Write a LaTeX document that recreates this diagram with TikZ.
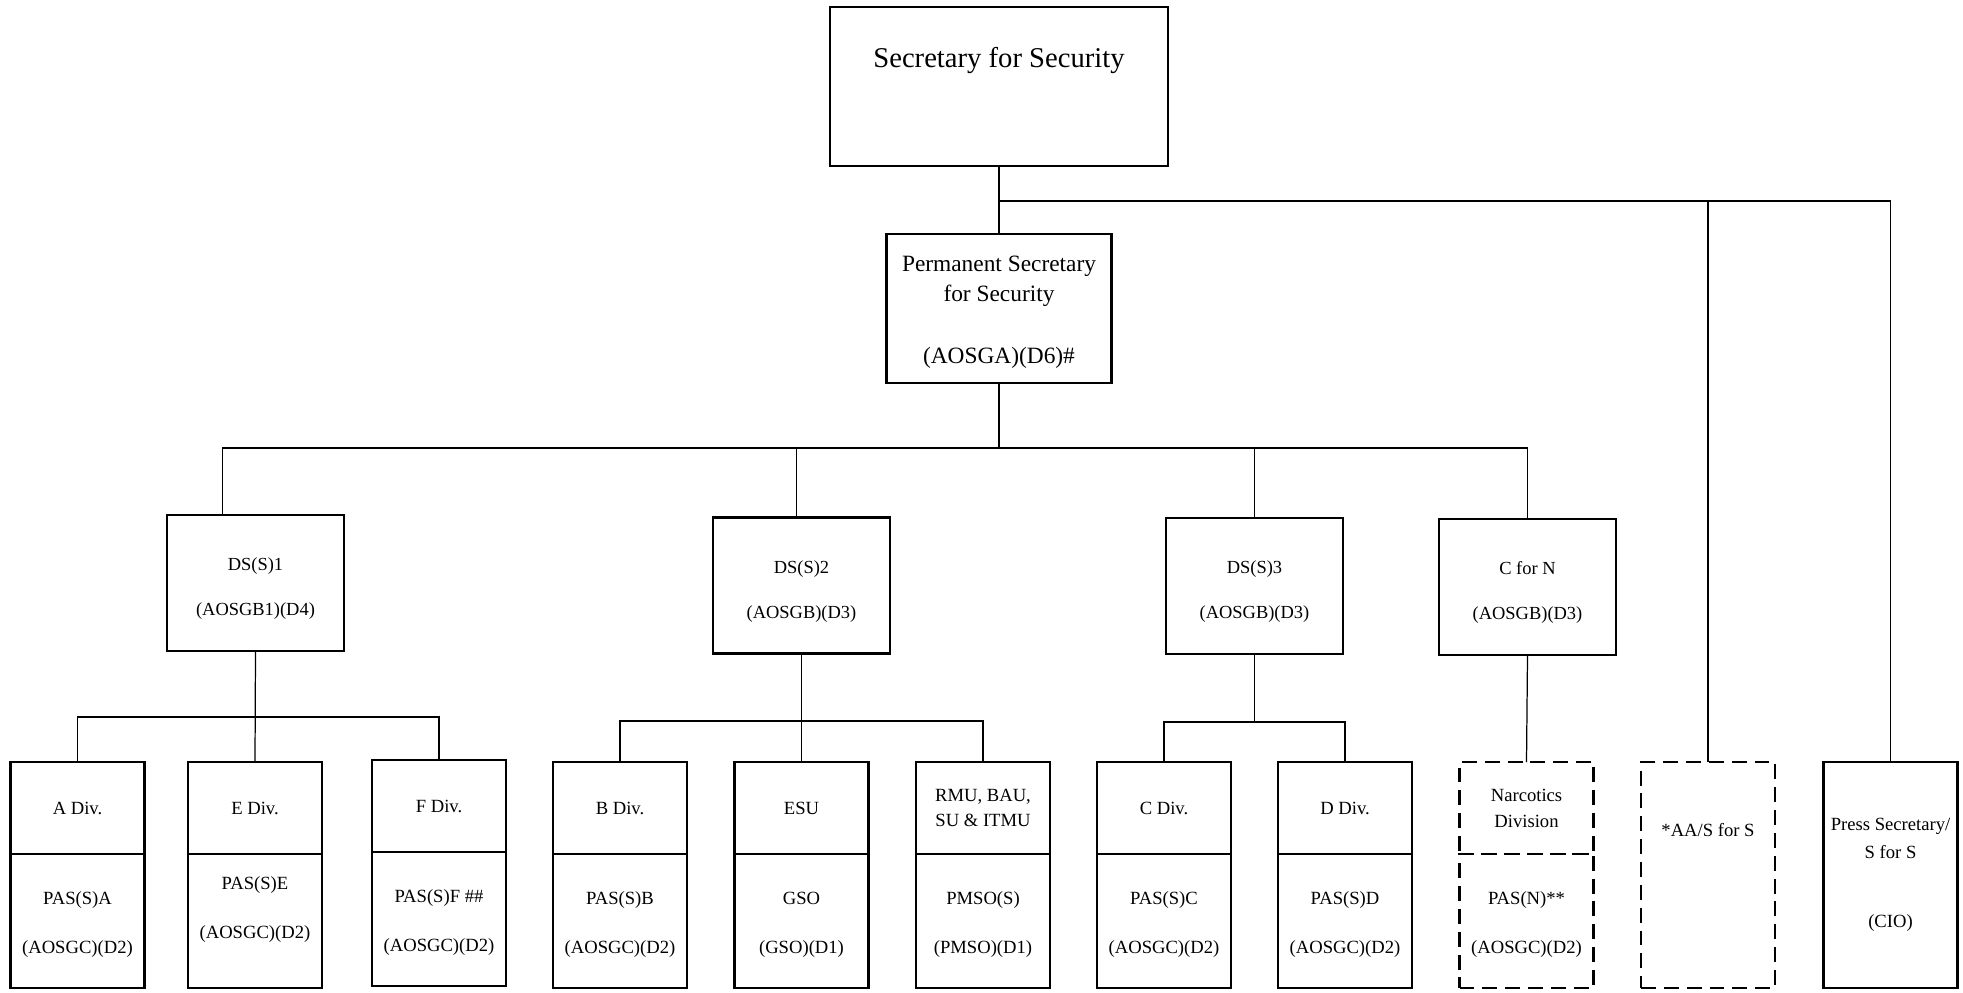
\documentclass[tikz,border=0pt]{standalone}
\usepackage{fontspec}
\setmainfont{Liberation Serif}
\usetikzlibrary{positioning}
\tikzset{
  box/.style = {draw, line width=1.5pt, rectangle, outer sep=0pt, align=center, inner sep=2pt},
  head/.style = {box, minimum width=6.76cm, minimum height=3.18cm},
  chief/.style = {box, font=\fontsize{13.3}{16}\selectfont, minimum width=4.5cm, minimum height=2.98cm},
  deputy/.style = {box, font=\fontsize{10.5}{12.6}\selectfont, minimum width=3.54cm, minimum height=2.72cm},
  unit/.style = {box, font=\fontsize{10.6}{12.7}\selectfont, minimum width=2.68cm, minimum height=1.84cm},
  post/.style = {box, font=\fontsize{10.6}{12.7}\selectfont, minimum width=2.68cm, minimum height=2.68cm},
  tallpost/.style = {box, font=\fontsize{10.6}{12.7}\selectfont, minimum width=2.68cm, minimum height=4.52cm},
  pending/.style = {dash pattern=on 8.5pt off 4.5pt},
  link/.style = {line width=0.7pt}
}

\begin{document}
\begin{tikzpicture}[x=0.02cm, y=-0.02cm]
    \useasboundingbox (0,0) rectangle (1963,992);

    % Top of the chart
    \node [head, label={[font=\fontsize{16.3}{19.5}\selectfont, anchor=center, yshift=-1.06cm]north:Secretary for Security}] (sec) at (999,86.5) {};
    \node [chief] (perm) at (999,308.5) {\rule{0pt}{13pt}Permanent Secretary\\[1pt]for Security\\[19pt](AOSGA)(D6)\#};

    % Deputies
    \node [deputy] (ds1) at (255.5,583) {\rule{0pt}{14pt}DS(S)1\\[13pt](AOSGB1)(D4)};
    \node [deputy] (ds2) at (801.5,585.5) {\rule{0pt}{14pt}DS(S)2\\[13pt](AOSGB)(D3)};
    \node [deputy] (ds3) at (1254.5,586) {\rule{0pt}{14pt}DS(S)3\\[13pt](AOSGB)(D3)};
    \node [deputy] (cn) at (1527.5,587) {\rule{0pt}{14pt}C for N\\[13pt](AOSGB)(D3)};

    % Divisions and units
    \node [unit] (divA) at (77.5,808) {A Div.};
    \node [post, below=0pt of divA] (pasA) {\rule{0pt}{11pt}PAS(S)A\\[15pt](AOSGC)(D2)};
    \node [unit] (divE) at (255,808) {E Div.};
    \node [post, below=0pt of divE] (pasE) {PAS(S)E\\[15pt](AOSGC)(D2)\\[3pt]};
    \node [unit] (divF) at (439,806) {F Div.};
    \node [post, below=0pt of divF] (pasF) {\rule{0pt}{11pt}PAS(S)F \#\#\\[15pt](AOSGC)(D2)};
    \node [unit] (divB) at (620,808) {B Div.};
    \node [post, below=0pt of divB] (pasB) {\rule{0pt}{11pt}PAS(S)B\\[15pt](AOSGC)(D2)};
    \node [unit] (esu) at (801.5,808) {ESU};
    \node [post, below=0pt of esu] (gso) {\rule{0pt}{11pt}GSO\\[15pt](GSO)(D1)};
    \node [unit] (rmu) at (983,808) {RMU, BAU,\\[2pt]SU \& ITMU};
    \node [post, below=0pt of rmu] (pmso) {\rule{0pt}{11pt}PMSO(S)\\[15pt](PMSO)(D1)};
    \node [unit] (divC) at (1164,808) {C Div.};
    \node [post, below=0pt of divC] (pasC) {\rule{0pt}{11pt}PAS(S)C\\[15pt](AOSGC)(D2)};
    \node [unit] (divD) at (1345,808) {D Div.};
    \node [post, below=0pt of divD] (pasD) {\rule{0pt}{11pt}PAS(S)D\\[15pt](AOSGC)(D2)};
    \node [unit, pending] (divN) at (1526.5,808) {Narcotics\\[2pt]Division};
    \node [post, pending, below=0pt of divN] (pasN) {\rule{0pt}{11pt}PAS(N)**\\[15pt](AOSGC)(D2)};
    \node [tallpost, pending, label={[font=\fontsize{10.6}{12.7}\selectfont, anchor=center, yshift=-1.36cm]north:*AA/S for S}] (aas) at (1708,875) {};
    \node [tallpost] (press) at (1890.5,875) {Press Secretary/\\[3pt]S for S\\[27pt](CIO)};

    % Lines from the Secretary
    \coordinate (bus0) at (999,201);
    \draw [link] (sec.south) -- (perm.north);
    \draw [link] (bus0) -| (press.north);
    \draw [link] (aas.north |- bus0) -- (aas.north);

    % Lines to the deputies
    \coordinate (bus1) at (999,448);
    \draw [link] (perm.south) -- (bus1);
    \draw [link] ([xshift=-0.66cm]ds1.north) |- (cn.north |- bus1) -- (cn.north);
    \draw [link] ([xshift=-0.1cm]ds2.north) -- ([xshift=-0.1cm]ds2.north |- bus1);
    \draw [link] (ds3.north) -- (ds3.north |- bus1);

    % Lines to the divisions
    \draw [link] (ds1.south) -- (divE.north);
    \draw [link] (divA.north) -- ++(0,-45) -| (divF.north);
    \draw [link] (ds2.south) -- (esu.north);
    \draw [link] (divB.north) -- ++(0,-41) -| (rmu.north);
    \draw [link] (ds3.south) -- ++(0,68);
    \draw [link] (divC.north) -- ++(0,-40) -| (divD.north);
    \draw [link] (cn.south) -- (divN.north);

\end{tikzpicture}
\end{document}
